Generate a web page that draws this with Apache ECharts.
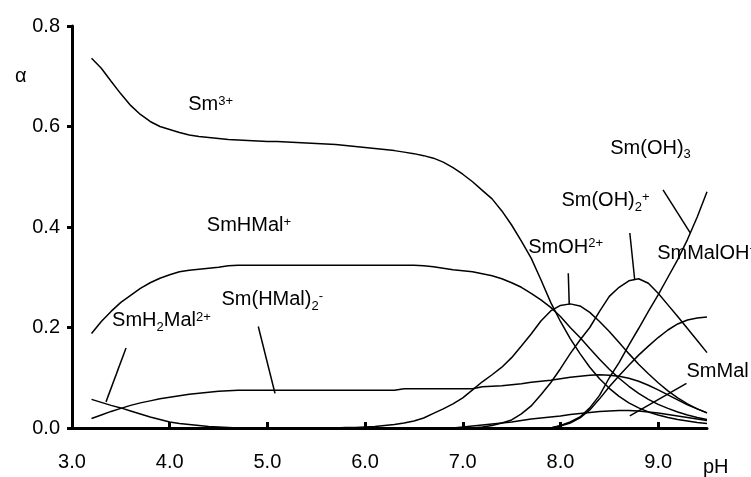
<!DOCTYPE html>
<html>
<head>
<meta charset="utf-8">
<script src="https://cdn.jsdelivr.net/npm/echarts@6/dist/echarts.min.js"></script>
<style>html,body{margin:0;padding:0;background:#fff}#c{width:751px;height:477px}</style>
</head>
<body>
<div id="c"></div>
<script>
// ---- data ----
const pH = [3.2,3.3,3.4,3.5,3.6,3.7,3.8,3.9,4.0,4.1,
  4.2,4.3,4.4,4.5,4.6,4.7,4.8,4.9,5.0,5.1,
  5.2,5.3,5.4,5.5,5.6,5.7,5.8,5.9,6.0,6.1,
  6.2,6.3,6.4,6.5,6.6,6.7,6.8,6.9,7.0,7.1,
  7.2,7.3,7.4,7.5,7.6,7.7,7.8,7.9,8.0,8.1,
  8.2,8.3,8.4,8.5,8.6,8.7,8.8,8.9,9.0,9.1,
  9.2,9.3,9.4,9.5];
const sm3 = [.736,.716,.690,.665,.642,.624,.610,.600,.594,.588,
  .583,.580,.578,.576,.574,.573,.572,.571,.570,.570,
  .569,.568,.567,.566,.565,.564,.562,.560,.558,.556,
  .554,.552,.549,.546,.542,.537,.529,.518,.505,.490,
  .473,.456,.432,.404,.372,.338,.295,.250,.212,.178,
  .148,.121,.098,.079,.063,.050,.040,.032,.026,.021,
  .017,.014,.011,.009];
const smHMal = [.188,.212,.232,.250,.264,.278,.289,.298,.305,.311,
  .314,.316,.318,.320,.323,.324,.324,.324,.324,.324,
  .324,.324,.324,.324,.324,.324,.324,.324,.324,.324,
  .324,.324,.324,.324,.323,.321,.318,.315,.313,.311,
  .307,.303,.297,.289,.280,.268,.255,.240,.222,.200,
  .180,.158,.137,.117,.099,.083,.069,.057,.047,.039,
  .032,.026,.021,.017];
const smH2Mal = [.057,.051,.045,.040,.034,.028,.022,.017,.012,.009,
  .007,.005,.003,.002,.001,0,0,0,0,0,
  0,0,0,0,0,0,0,0,0,0,
  0,0,0,0,0,0,0,0,0,0,
  0,0,0,0,0,0,0,0,0,0,
  0,0,0,0,0,0,0,0,0,0,
  0,0,0,0];
const smHMal2 = [.019,.026,.033,.039,.045,.050,.054,.058,.061,.064,
  .067,.069,.071,.073,.074,.075,.075,.075,.075,.075,
  .075,.075,.075,.075,.075,.075,.075,.075,.075,.075,
  .075,.075,.078,.078,.078,.078,.078,.078,.078,.078,
  .082,.083,.084,.086,.088,.091,.093,.095,.098,.101,
  .103,.105,.106,.105,.103,.099,.093,.085,.076,.066,
  .056,.046,.038,.030];
const smOH = [0,0,0,0,0,0,0,0,0,0,
  0,0,0,0,0,0,0,0,0,0,
  0,0,0,0,0,0,.001,.001,.002,.003,
  .005,.007,.010,.014,.020,.029,.038,.048,.060,.076,
  .092,.106,.121,.140,.163,.187,.213,.233,.244,.247,
  .243,.230,.212,.192,.170,.148,.127,.108,.090,.074,
  .060,.048,.038,.030];
const smOH2 = [0,0,0,0,0,0,0,0,0,0,
  0,0,0,0,0,0,0,0,0,0,
  0,0,0,0,0,0,0,0,0,0,
  0,0,0,0,0,0,0,0,0,0,
  .002,.005,.010,.016,.028,.044,.066,.090,.118,.148,
  .175,.200,.232,.262,.280,.293,.297,.288,.268,.245,
  .222,.198,.174,.150];
const smOH3 = [0,0,0,0,0,0,0,0,0,0,
  0,0,0,0,0,0,0,0,0,0,
  0,0,0,0,0,0,0,0,0,0,
  0,0,0,0,0,0,0,0,0,0,
  0,0,0,0,0,0,0,0,.005,.012,
  .022,.040,.065,.100,.130,.165,.198,.232,.265,.300,
  .335,.375,.420,.470];
const smMalOH = [0,0,0,0,0,0,0,0,0,0,
  0,0,0,0,0,0,0,0,0,0,
  0,0,0,0,0,0,0,0,0,0,
  0,0,0,0,0,0,0,0,0,0,
  0,0,0,0,0,0,0,0,.004,.010,
  .020,.036,.058,.082,.104,.125,.145,.163,.180,.195,
  .207,.215,.219,.221];
const smMal = [0,0,0,0,0,0,0,0,0,0,
  0,0,0,0,0,0,0,0,0,0,
  0,0,0,0,0,0,0,0,0,0,
  0,0,0,0,0,0,0,0,.002,.004,
  .006,.008,.010,.012,.015,.018,.020,.022,.024,.027,
  .029,.031,.033,.034,.035,.035,.034,.032,.030,.027,
  .024,.021,.018,.015];
const xTicks = [3,4,5,6,7,8,9];
const yTicks = [0,0.2,0.4,0.6,0.8];

// species labels: rich text, anchor (top-left) in data coords
const labelTexts = ['{m|Sm}{sup|3+}','{m|SmHMal}{sup|+}','{m|SmH}{sub|2}{m|Mal}{sup|2+}','{m|Sm(HMal)}{sub|2}{sup|-}',
  '{m|SmOH}{sup|2+}','{m|Sm(OH)}{sub|2}{sup|+}','{m|Sm(OH)}{sub|3}','{m|SmMalOH}{sup|+}','{m|SmMal}'];
const labelPH = [4.19,4.38,3.41,4.53,7.67,8.01,8.51,8.99,9.29];
const labelAlpha = [0.663,0.422,0.233,0.275,0.380,0.472,0.577,0.368,0.133];
// leader lines: from [pH, alpha] to [pH, alpha]
const leaderFrom = [[3.553,0.159],[4.907,0.202],[8.08,0.308],[8.71,0.388],[9.05,0.474],[9.52,0.308],[9.29,0.089]];
const leaderTo   = [[3.348,0.052],[5.078,0.069],[8.09,0.245],[8.76,0.295],[9.33,0.388],[9.43,0.200],[8.71,0.024]];

const FONT = 'Liberation Sans, Arial, sans-serif';
const speciesData = [sm3, smHMal, smH2Mal, smHMal2, smOH, smOH2, smOH3, smMalOH, smMal];

const chart = echarts.init(document.getElementById('c'), null, {renderer:'canvas'});
const series = speciesData.map(arr => ({
  type:'line', data: pH.map((x,i)=>[x, arr[i]]), showSymbol:false, symbol:'none',
  lineStyle:{color:'#000', width:1.5}, silent:true, animation:false, z:3
}));
series.push({
  type:'line', data:[], silent:true, animation:false,
  markLine:{ silent:true, symbol:['none','none'], animation:false,
    lineStyle:{color:'#000', width:1.5, type:'solid'}, label:{show:false},
    data: leaderFrom.map((f,i)=>[{coord:f},{coord:leaderTo[i]}]) }
});
series.push({
  type:'scatter', symbolSize:0, clip:false, silent:true, animation:false, z:5,
  itemStyle:{opacity:1, color:'#000'},
  data: labelTexts.map((t,i)=>({value:[labelPH[i], labelAlpha[i]],
    label:{show:true, position:[0,0], align:'left', verticalAlign:'top', formatter:t}})),
  label:{ show:true, color:'#000', opacity:1, fontFamily:FONT,
    rich:{
      m:{fontSize:20, lineHeight:22, verticalAlign:'top', fontFamily:FONT, color:'#000'},
      sup:{fontSize:13, lineHeight:13, verticalAlign:'top', fontFamily:FONT, color:'#000'},
      sub:{fontSize:13, lineHeight:13, verticalAlign:'top', padding:[10,0,0,0], fontFamily:FONT, color:'#000'}
    }}
});

chart.setOption({
  animation:false,
  backgroundColor:'#fff',
  grid:{left:72, right:44, top:26, bottom:49, containLabel:false},
  xAxis:{type:'value', min:3, max:9.5, interval:1,
    axisLine:{show:true, onZero:false, lineStyle:{color:'#000', width:3}},
    axisTick:{show:true, inside:true, length:6, customValues:xTicks, lineStyle:{color:'#000', width:3}},
    axisLabel:{show:true, customValues:xTicks, margin:24, color:'#000', fontSize:20, fontFamily:FONT,
      formatter:v=>v.toFixed(1)},
    splitLine:{show:false}},
  yAxis:{type:'value', min:0, max:0.8, interval:0.2,
    axisLine:{show:true, lineStyle:{color:'#000', width:3}},
    axisTick:{show:true, inside:false, length:5, customValues:yTicks, lineStyle:{color:'#000', width:3}},
    axisLabel:{show:true, margin:12, color:'#000', fontSize:20, fontFamily:FONT, formatter:v=>v.toFixed(1)},
    splitLine:{show:false}},
  graphic:[
    {type:'text', left:15, top:66, style:{text:'α', fontSize:20, fontFamily:FONT, fill:'#000'}},
    {type:'text', left:703, top:457, style:{text:'pH', fontSize:20, fontFamily:FONT, fill:'#000'}}
  ],
  series: series
});
</script>
</body>
</html>
